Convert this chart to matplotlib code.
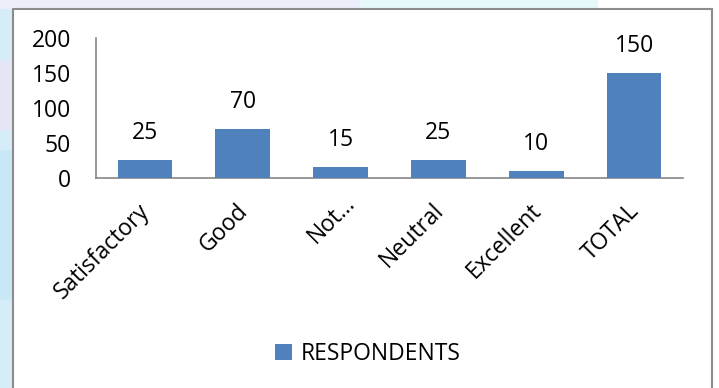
import matplotlib
matplotlib.use("Agg")
import matplotlib.pyplot as plt
from matplotlib.patches import Rectangle, Patch
import matplotlib.transforms as mtransforms

# Survey responses
categories = ["Satisfactory", "Good", "Not\u2026", "Neutral", "Excellent", "TOTAL"]
respondents = [25, 70, 15, 25, 10, 150]
y_ticks = [0, 50, 100, 150, 200]
series_name = "RESPONDENTS"

BAR_COLOR = "#4F81BD"
AXIS_COLOR = "#868686"
FONT = "Open Sans"
FS = 16.5

W, H = 719, 388
fig = plt.figure(figsize=(W / 100, H / 100), dpi=100)
fig.patch.set_facecolor("white")

def px_rect(x0, y0, x1, y1, **kw):
    """Rectangle in figure pixel coords (y measured from top)."""
    r = Rectangle((x0 / W, 1 - y1 / H), (x1 - x0) / W, (y1 - y0) / H,
                  transform=fig.transFigure, **kw)
    fig.add_artist(r)
    return r

# soft page background behind the chart frame
px_rect(0, 0, 13, H, facecolor="#d6ecf8", edgecolor="none", zorder=0)
px_rect(0, 60, 13, 130, facecolor="#e4e6f6", edgecolor="none", zorder=0)
px_rect(0, 150, 13, 300, facecolor="#c9e8f6", edgecolor="none", zorder=0)
px_rect(0, 0, 360, 9, facecolor="#eceef9", edgecolor="none", zorder=0)
px_rect(360, 0, 598, 9, facecolor="#e6f8fa", edgecolor="none", zorder=0)

# chart frame
px_rect(12.7, 9, 711.7, H + 5, facecolor="white", edgecolor="#8c8c8c",
        linewidth=1.5, zorder=1)

ax = fig.add_axes([96 / W, 1 - 178 / H, (683 - 96) / W, (178 - 38) / H])
ax.set_zorder(2)
ax.patch.set_visible(False)

x = list(range(len(categories)))
bars = ax.bar(x, respondents, width=0.56, color=BAR_COLOR, zorder=3,
              label=series_name)

for xi, v in zip(x, respondents):
    ax.annotate(str(v), (xi, v), xytext=(0, 19.5), textcoords="offset points",
                ha="center", va="center", fontsize=FS, family=FONT,
                color="black")

ax.set_xlim(-0.5, len(categories) - 0.5)
ax.set_ylim(0, 200)
ax.set_yticks(y_ticks)
ax.set_yticklabels([str(t) for t in y_ticks], fontsize=FS, family=FONT)
ax.set_xticks(x)
ax.set_xticklabels(categories, fontsize=FS, family=FONT, rotation=45,
                   ha="right", va="top", rotation_mode="anchor")

ax.tick_params(axis="y", length=0, pad=18)
ax.tick_params(axis="x", length=0, pad=15)

for side in ("top", "right"):
    ax.spines[side].set_visible(False)
for side in ("left", "bottom"):
    ax.spines[side].set_color(AXIS_COLOR)
    ax.spines[side].set_linewidth(1.2)

# nudge the rotated labels; the truncated one sits a bit higher
for i, lab in enumerate(ax.get_xticklabels()):
    dx, dy = -7, 0
    if categories[i].endswith("\u2026"):
        dx, dy = 3, 8
    lab.set_transform(lab.get_transform() +
                      mtransforms.ScaledTranslation(dx / 100, dy / 100,
                                                    fig.dpi_scale_trans))

leg = fig.legend(handles=[Patch(facecolor=BAR_COLOR, edgecolor="none",
                                label=series_name)],
                 loc="center", bbox_to_anchor=(368 / W, 1 - 354 / H),
                 frameon=False, handlelength=0.7, handleheight=0.7,
                 handletextpad=0.4, prop={"family": FONT, "size": FS})
leg.set_zorder(3)

fig.savefig("out.png", dpi=100)
